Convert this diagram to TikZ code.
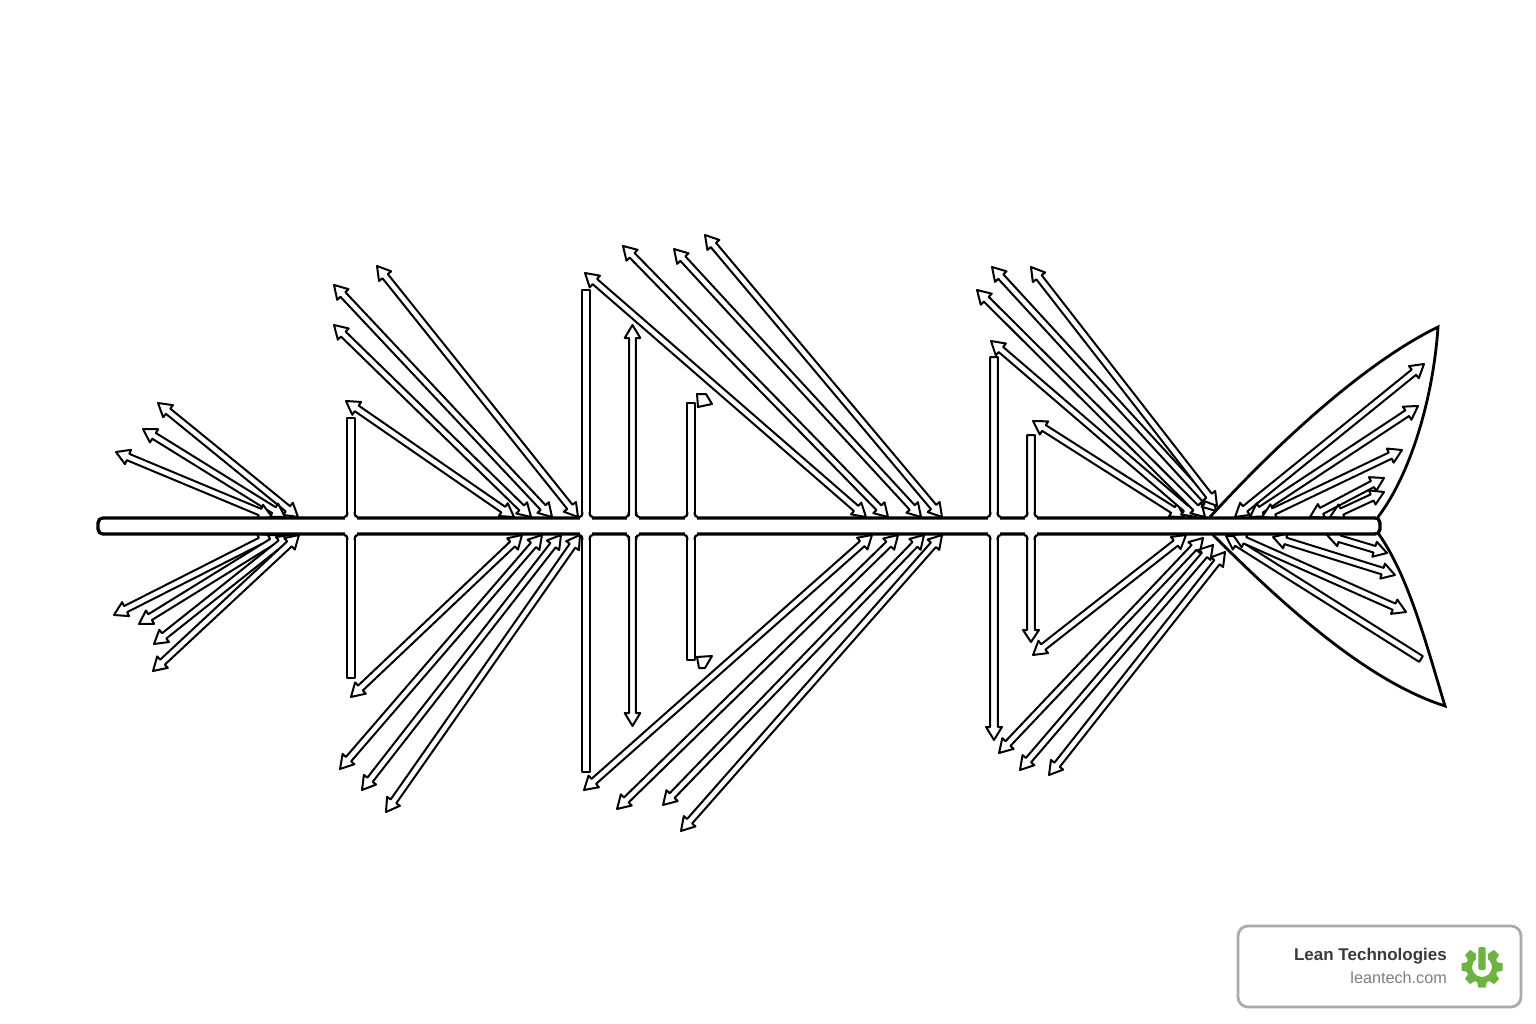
\documentclass[tikz,border=0pt]{standalone}
\usepackage{fontspec}
\setmainfont{Liberation Sans}
\definecolor{leangreen}{HTML}{6CB33F}
\definecolor{boxgray}{HTML}{ABABAB}
\definecolor{txtdark}{HTML}{3A3A3A}
\definecolor{txtgray}{HTML}{7F7F7F}
\tikzset{
  fatarrow/.style={draw=black,fill=white,line width=2pt,line join=round},
  barline/.style={draw=black,fill=white,line width=2pt,line join=round},
  finline/.style={draw=black,line width=2.8pt,line cap=round},
  spineline/.style={draw=black,fill=white,line width=3.4pt,rounded corners=5pt},
}
% double-headed outlined arrow from (x1,y1) to (x2,y2)
\newcommand\fatdbl[4]{%
  \pgfmathsetmacro\fatlen{veclen(#3-#1,#4-#2)}%
  \pgfmathsetmacro\fatang{atan2(#4-#2,#3-#1)}%
  \begin{scope}[shift={(#1,#2)},rotate=\fatang]
    \draw[fatarrow] (0,0) -- (13,7.8) -- (13,3.4) -- (\fatlen-13,3.4) -- (\fatlen-13,7.8) -- (\fatlen,0)
      -- (\fatlen-13,-7.8) -- (\fatlen-13,-3.4) -- (13,-3.4) -- (13,-7.8) -- cycle;
  \end{scope}}
% single-headed: head at the (x2,y2) end, flat at (x1,y1)
\newcommand\fatone[4]{%
  \pgfmathsetmacro\fatlen{veclen(#3-#1,#4-#2)}%
  \pgfmathsetmacro\fatang{atan2(#4-#2,#3-#1)}%
  \begin{scope}[shift={(#1,#2)},rotate=\fatang]
    \draw[fatarrow] (0,3.4) -- (\fatlen-13,3.4) -- (\fatlen-13,7.8) -- (\fatlen,0)
      -- (\fatlen-13,-7.8) -- (\fatlen-13,-3.4) -- (0,-3.4) -- cycle;
  \end{scope}}
\begin{document}
\begin{tikzpicture}[x=1pt,y=1pt,yscale=-1]
\useasboundingbox (0,0) rectangle (1536,1024);
\fill[white] (0,0) rectangle (1536,1024);
% fins
\draw[finline] (1210,517) .. controls (1285,435) and (1370,360) .. (1438,327)
   .. controls (1433,400) and (1410,475) .. (1378,517);
\draw[finline] (1213,535) .. controls (1290,612) and (1370,682) .. (1445,706)
   .. controls (1425,640) and (1408,575) .. (1378,533);
% left cluster
\fatdbl{298}{517}{158}{403}
\fatdbl{285}{517}{143}{429}
\fatdbl{272}{517}{116}{452}
\fatdbl{272}{535}{114}{615}
\fatdbl{283}{535}{139}{624}
\fatdbl{291}{535}{154}{644}
\fatdbl{299}{535}{153}{671}
% second cluster
\fatdbl{514}{517}{346}{401}
\fatdbl{531}{517}{334}{325}
\fatdbl{552}{517}{334}{285}
\fatdbl{578}{517}{377}{266}
\fatdbl{522}{535}{351}{697}
\fatdbl{542}{535}{340}{769}
\fatdbl{561}{535}{362}{790}
\fatdbl{580}{535}{386}{812}
% third cluster
\fatdbl{866}{517}{585}{273}
\fatdbl{888}{517}{623}{246}
\fatdbl{921}{517}{674}{249}
\fatdbl{942}{517}{705}{235}
\fatdbl{872}{535}{584}{790}
\fatdbl{898}{535}{617}{809}
\fatdbl{924}{535}{663}{805}
\fatdbl{942}{535}{681}{831}
% fourth cluster
\fatdbl{1184}{517}{1033}{421}
\fatdbl{1196}{517}{991}{341}
\fatdbl{1205}{517}{977}{290}
\fatdbl{1216}{511}{992}{267}
\fatdbl{1217}{506}{1031}{267}
\fatdbl{1186}{535}{1033}{655}
\fatdbl{1203}{538}{999}{753}
\fatdbl{1213}{545}{1020}{770}
\fatdbl{1225}{552}{1049}{775}
% tail arrows
\fatdbl{1235}{517}{1424}{364}
\fatdbl{1250}{517}{1418}{406}
\fatdbl{1262}{517}{1402}{450}
\fatdbl{1310}{517}{1384}{478}
\fatdbl{1330}{517}{1384}{492}
\fatone{1421}{659}{1226}{536}
\fatdbl{1233}{535}{1406}{612}
\fatdbl{1273}{537}{1395}{575}
\fatdbl{1327}{535}{1387}{553}
% spine
\draw[spineline] (98,518) rectangle (1380,534);
% vertical bones
\draw[barline] (347.2,418) rectangle (354.8,678);
\draw[barline] (582.2,290) rectangle (589.8,772);
\fatdbl{632.5}{325}{632.5}{726}
\draw[barline] (687.2,403) rectangle (694.8,660);
\draw[fatarrow] (697,394) -- (706,394) -- (712,404) -- (698,407) -- cycle;
\draw[fatarrow] (697,657) -- (712,656) -- (705,668) -- (699,668) -- cycle;
\draw[barline] (990.2,357) -- (997.8,357) -- (997.8,727) -- (1002,727) -- (994,740) -- (986,727) -- (990.2,727) -- cycle;
\draw[barline] (1027.2,435) -- (1034.8,435) -- (1034.8,630) -- (1039,630) -- (1031,642) -- (1023,630) -- (1027.2,630) -- cycle;
% openings where the bones cross the spine
\foreach \bx in {351,586,632.5,691,994,1031}{
  \fill[white] (\bx-2.8,515) rectangle (\bx+2.8,537);
  \fill[white] (\bx-6,516) rectangle (\bx+6,536);
  \draw[black,line width=2.2pt] (\bx-3.8,512) -- (\bx-3.8,514) arc[start angle=0,end angle=90,radius=3] ;
  \draw[black,line width=2.2pt] (\bx+3.8,512) -- (\bx+3.8,514) arc[start angle=180,end angle=90,radius=3];
  \draw[black,line width=2.2pt] (\bx-3.8,540) -- (\bx-3.8,538) arc[start angle=0,end angle=-90,radius=3];
  \draw[black,line width=2.2pt] (\bx+3.8,540) -- (\bx+3.8,538) arc[start angle=180,end angle=270,radius=3];
}
\fill[white] (101,520) rectangle (1377,532);
% badge
\draw[draw=boxgray,fill=white,line width=2.8pt,rounded corners=10pt] (1238,926) rectangle (1521,1007);
\node[anchor=base east,inner sep=0pt,text=txtdark,font=\bfseries\fontsize{17}{20}\selectfont] (brand) at (1447,960) {Lean Technologies};
\node[anchor=base east,inner sep=0pt,text=txtgray,font=\fontsize{16.2}{18}\selectfont] (site) at (1447,983) {leantech.com};
% logo
\begin{scope}[shift={(1482,967)}]
  \foreach \a in {0,45,90,135,180,225,315}{
    \begin{scope}[rotate=\a]
      \fill[leangreen] (12,-5.5) -- (20.5,-3.6) -- (20.5,3.6) -- (12,5.5) -- cycle;
    \end{scope}}
  \draw[leangreen,line width=6pt] (-62:13) arc[start angle=-62,end angle=242,radius=13];
  \fill[white] (-6,-18) rectangle (6,-4);
  \fill[leangreen,rounded corners=1.5pt] (-3.6,-20) rectangle (3.6,3);
\end{scope}
\end{tikzpicture}
\end{document}
